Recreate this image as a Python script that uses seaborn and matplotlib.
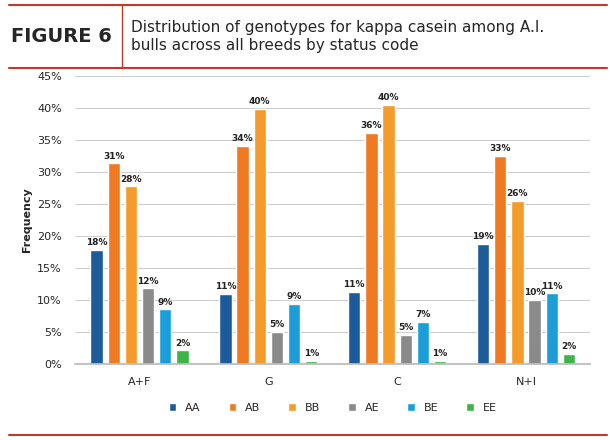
import matplotlib
matplotlib.use("Agg")
import matplotlib.pyplot as plt
import seaborn as sns
import pandas as pd

groups = ["A+F", "G", "C", "N+I"]
genotypes = ["AA", "AB", "BB", "AE", "BE", "EE"]
values = {
    "AA": [17.8, 10.9, 11.2, 18.7],
    "AB": [31.3, 34.0, 36.1, 32.5],
    "BB": [27.7, 39.8, 40.4, 25.4],
    "AE": [11.8, 5.0, 4.5, 10.0],
    "BE": [8.5, 9.4, 6.5, 11.0],
    "EE": [2.1, 0.5, 0.5, 1.5],
}
labels = {
    "AA": ["18%", "11%", "11%", "19%"],
    "AB": ["31%", "34%", "36%", "33%"],
    "BB": ["28%", "40%", "40%", "26%"],
    "AE": ["12%", "5%", "5%", "10%"],
    "BE": ["9%", "9%", "7%", "11%"],
    "EE": ["2%", "1%", "1%", "2%"],
}
colors = ["#1d5c9c", "#f07a22", "#f59b2c", "#8a8a8a", "#1b9ed8", "#3cb44a"]

rows = []
for g in genotypes:
    for i, grp in enumerate(groups):
        rows.append({"group": grp, "genotype": g, "value": values[g][i], "label": labels[g][i]})
df = pd.DataFrame(rows)

sns.set_theme(style="white")
plt.rcParams['font.family'] = ['DejaVu Sans']
fig = plt.figure(figsize=(6.1, 4.4), dpi=100)
ax = fig.add_axes([0.123, 0.173, 0.845, 0.655])
sns.barplot(data=df, x="group", y="value", hue="genotype", palette=colors,
            order=groups, hue_order=genotypes, ax=ax, width=0.8, saturation=1)
for cont in ax.containers:
    for p in cont.patches:
        w = p.get_width()
        p.set_x(p.get_x() + w * 0.14)
        p.set_width(w * 0.72)
for cont, g in zip(ax.containers, genotypes):
    ax.bar_label(cont, labels=labels[g], padding=2, fontsize=6.5, fontweight="bold", color="#222")
ax.set_ylim(0, 45)
ax.set_yticks(range(0, 50, 5))
ax.set_yticklabels([f"{v}%" for v in range(0, 50, 5)], fontsize=8)
ax.tick_params(axis="x", labelsize=8)
ax.set_xlabel("")
ax.set_ylabel("Frequency", fontsize=8, fontweight="bold")
ax.yaxis.grid(True, color="#d0d0d0", lw=0.8)
ax.set_axisbelow(True)
for s in ["top", "right", "left"]:
    ax.spines[s].set_visible(False)
ax.spines["bottom"].set_color("#bbbbbb")
ax.legend(loc="upper center", bbox_to_anchor=(0.5, -0.1), ncol=6, frameon=False,
          fontsize=8, handlelength=0.7, handleheight=0.7, columnspacing=2.5)

red = "#c0392b"
fig.add_artist(plt.Line2D([0.015, 0.995], [0.988, 0.988], color=red, lw=1.5))
fig.add_artist(plt.Line2D([0.015, 0.995], [0.845, 0.845], color=red, lw=1.5))
fig.add_artist(plt.Line2D([0.015, 0.995], [0.012, 0.012], color=red, lw=1.5))
fig.add_artist(plt.Line2D([0.2, 0.2], [0.845, 0.988], color=red, lw=1))
fig.text(0.1, 0.917, "FIGURE 6", ha="center", va="center", fontsize=14, fontweight="bold")
fig.text(0.215, 0.917, "Distribution of genotypes for kappa casein among A.I.\nbulls across all breeds by status code",
         ha="left", va="center", fontsize=11, linespacing=1.2)
fig.savefig("out.png", dpi=100)
